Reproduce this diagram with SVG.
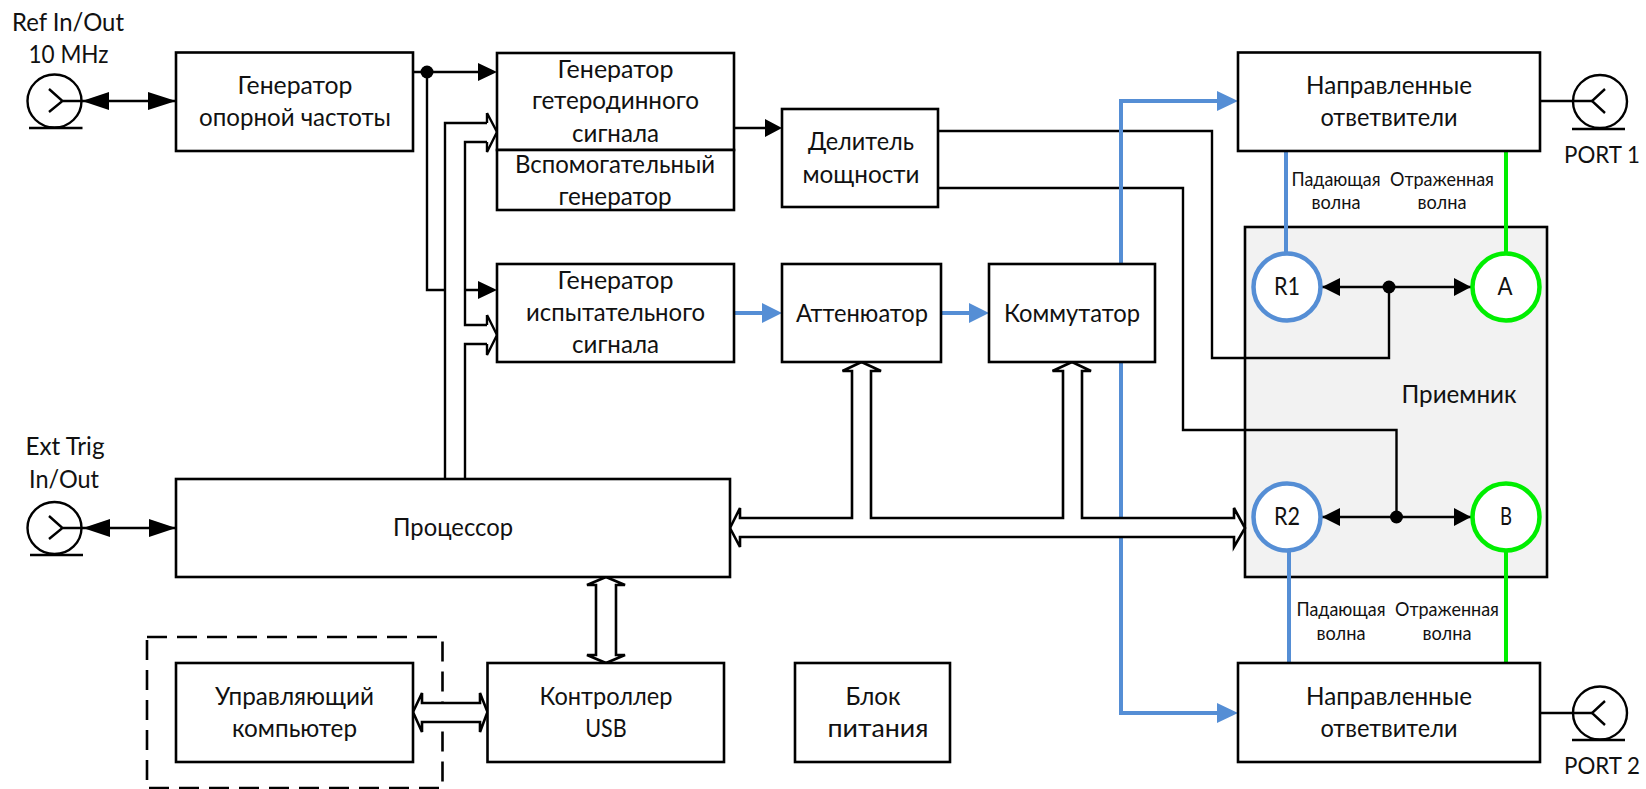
<svg xmlns="http://www.w3.org/2000/svg" width="1646" height="789" viewBox="0 0 1646 789">
<style>
text{font-family:"Lato","Noto Sans","Liberation Sans",sans-serif;font-size:25.5px;fill:#111;text-anchor:middle}
text.s{font-size:19px}
text.pt{font-size:24px}
.b{fill:#fff;stroke:#000;stroke-width:2.6}
.l{fill:none;stroke:#000;stroke-width:2.4}
.h{fill:#fff;stroke:#000;stroke-width:2.6;stroke-linejoin:miter}
.bl{fill:none;stroke:#558ed5;stroke-width:4}
.gr{fill:none;stroke:#00ee00;stroke-width:4}
.c{fill:#fff;stroke-width:4.5}
.p{fill:#fff;stroke:#000;stroke-width:2.4}
.a{fill:#000}
.ab{fill:#558ed5}
</style>
<g id="receiver"><rect x="1245" y="227" width="302" height="350" fill="#f2f2f2" stroke="#000" stroke-width="2.6"/><text x="1459" y="403" textLength="115" lengthAdjust="spacingAndGlyphs">Приемник</text></g>
<g id="computer-zone"><rect x="147" y="637" width="295.500" height="151" fill="none" stroke="#000" stroke-width="2.6" stroke-dasharray="20 10"/></g>
<g id="connectors">
<path class="l" d="M413 72H480M427 72V290H445M465 290H480M734 128H767"/>
<circle class="a" cx="427" cy="72" r="6.5"/>
<path class="a" d="M497 72l-19-9v18zM497 290l-19-9v18zM782 128l-17-9v18z"/>
<path class="l" d="M487 123H445V480M487 142H465V325H487M487 344H465V480"/>
<path class="l" d="M487 113L497 132L487 152V142M487 113V123M487 315L497 335L487 355V344M487 315V325"/>
<path class="l" d="M82 101H176M83 528H176"/>
<path class="a" d="M82 101l27-9v18zM176 101l-28-9v18zM83 528l27-9v18zM176 528l-27-9v18z"/>
<path class="l" d="M938 131H1212V358H1389V287M938 188H1183V430H1396.5V517M1322 287H1471M1322 517H1471"/>
<circle class="a" cx="1389" cy="287" r="6.5"/>
<circle class="a" cx="1396.5" cy="517" r="6.5"/>
<path class="a" d="M1322 287l18-9v18zM1471 287l-17-9v18zM1322 517l18-9v18zM1471 517l-17-9v18z"/>
<path class="bl" d="M734 313H765M941 313H972M1121 264V101H1220M1121 362V713H1220"/>
<path class="ab" d="M782 313l-20-10v20zM989 313l-20-10v20zM1238 101l-21-10v20zM1238 713l-21-10v20z"/>
<path class="h" d="M730 528L740 508V518H852V371H842.5L861.5 362L881 371H871V518H1063V371H1052.5L1072 362L1091 371H1082V518H1234V508L1245 528L1234 547V537H740V547Z"/>
<path class="h" d="M606 577L625 585H616V655H625L606 663L587 655H596V585H587Z"/>
<path class="h" d="M413 712L422 693V703H480V693L487.500 712L480 732V722H422V732Z"/>
<path class="bl" d="M1286 151V254"/>
<path class="gr" d="M1506 151V254M1506 550V663"/>
<path class="bl" d="M1289 550V663"/>
<path class="l" d="M1540 101H1592M1540 713H1592"/>
</g>
<g id="ref-connector"><ellipse class="p" cx="54.500" cy="101" rx="27" ry="26.500"/><path class="l" d="M49 89L62.500 101L49 112M62.500 101H82M29 128H82.500"/><text x="68" y="31" textLength="112" lengthAdjust="spacingAndGlyphs">Ref In/Out</text><text x="68.500" y="63" textLength="80" lengthAdjust="spacingAndGlyphs">10 MHz</text></g>
<g id="ext-connector"><ellipse class="p" cx="54.500" cy="528" rx="27" ry="26"/><path class="l" d="M49 516L62.500 528L49 539M62.500 528H83M30 555H83"/><text x="65" y="455" textLength="79" lengthAdjust="spacingAndGlyphs">Ext Trig</text><text x="64" y="488" textLength="70" lengthAdjust="spacingAndGlyphs">In/Out</text></g>
<g id="ref-gen"><rect class="b" x="176" y="52.500" width="237" height="98.500"/><text x="295" y="94" textLength="115" lengthAdjust="spacingAndGlyphs">Генератор</text><text x="295" y="126" textLength="192" lengthAdjust="spacingAndGlyphs">опорной частоты</text></g>
<g id="lo-gen"><rect class="b" x="497" y="53" width="237" height="97"/><text x="615.500" y="78" textLength="116" lengthAdjust="spacingAndGlyphs">Генератор</text><text x="615.500" y="109" textLength="167" lengthAdjust="spacingAndGlyphs">гетеродинного</text><text x="615.500" y="142" textLength="87" lengthAdjust="spacingAndGlyphs">сигнала</text></g>
<g id="aux-gen"><rect class="b" x="497" y="150" width="237" height="60"/><text x="615" y="173" textLength="200" lengthAdjust="spacingAndGlyphs">Вспомогательный</text><text x="615" y="205" textLength="113" lengthAdjust="spacingAndGlyphs">генератор</text></g>
<g id="test-gen"><rect class="b" x="497" y="264" width="237" height="98"/><text x="615.500" y="289" textLength="116" lengthAdjust="spacingAndGlyphs">Генератор</text><text x="615.500" y="321" textLength="179" lengthAdjust="spacingAndGlyphs">испытательного</text><text x="615.500" y="353" textLength="87" lengthAdjust="spacingAndGlyphs">сигнала</text></g>
<g id="divider"><rect class="b" x="782" y="109" width="156" height="98"/><text x="861" y="150" textLength="106" lengthAdjust="spacingAndGlyphs">Делитель</text><text x="861" y="183" textLength="117" lengthAdjust="spacingAndGlyphs">мощности</text></g>
<g id="attenuator"><rect class="b" x="782" y="264" width="159" height="98"/><text x="862" y="322" textLength="132" lengthAdjust="spacingAndGlyphs">Аттенюатор</text></g>
<g id="switch"><rect class="b" x="989" y="264" width="166" height="98"/><text x="1072" y="322" textLength="136" lengthAdjust="spacingAndGlyphs">Коммутатор</text></g>
<g id="coupler1"><rect class="b" x="1238" y="52.500" width="302" height="98.500"/><text x="1389" y="94" textLength="166" lengthAdjust="spacingAndGlyphs">Направленные</text><text x="1389" y="126" textLength="137" lengthAdjust="spacingAndGlyphs">ответвители</text></g>
<g id="port1"><ellipse class="p" style="fill:none" cx="1600" cy="101.500" rx="27" ry="26.500"/><path class="l" d="M1605 89L1592 101L1605 113M1572 129H1625"/><text class="pt" x="1602" y="163" textLength="76" lengthAdjust="spacingAndGlyphs">PORT 1</text></g>
<g id="coupler2"><rect class="b" x="1238" y="663" width="302" height="99"/><text x="1389" y="705" textLength="166" lengthAdjust="spacingAndGlyphs">Направленные</text><text x="1389" y="737" textLength="137" lengthAdjust="spacingAndGlyphs">ответвители</text></g>
<g id="port2"><ellipse class="p" style="fill:none" cx="1600" cy="713" rx="27" ry="26.500"/><path class="l" d="M1605 701L1592 713L1605 725M1572 740H1625"/><text class="pt" x="1602" y="774" textLength="76" lengthAdjust="spacingAndGlyphs">PORT 2</text></g>
<g id="r1"><circle class="c" cx="1287" cy="287" r="33.500" stroke="#558ed5"/><text x="1287" y="295" textLength="26" lengthAdjust="spacingAndGlyphs">R1</text></g>
<g id="a"><circle class="c" cx="1506" cy="287" r="33.500" stroke="#00ee00"/><text x="1505" y="295" textLength="15" lengthAdjust="spacingAndGlyphs">A</text></g>
<g id="r2"><circle class="c" cx="1287" cy="517" r="33.500" stroke="#558ed5"/><text x="1287" y="525" textLength="26" lengthAdjust="spacingAndGlyphs">R2</text></g>
<g id="b"><circle class="c" cx="1506" cy="517" r="33.500" stroke="#00ee00"/><text x="1506" y="525" textLength="12" lengthAdjust="spacingAndGlyphs">B</text></g>
<g id="labels">
<text class="s" x="1336" y="186" textLength="89" lengthAdjust="spacingAndGlyphs">Падающая</text><text class="s" x="1336" y="209" textLength="49" lengthAdjust="spacingAndGlyphs">волна</text>
<text class="s" x="1442" y="186" textLength="104" lengthAdjust="spacingAndGlyphs">Отраженная</text><text class="s" x="1442" y="209" textLength="49" lengthAdjust="spacingAndGlyphs">волна</text>
<text class="s" x="1341" y="616" textLength="89" lengthAdjust="spacingAndGlyphs">Падающая</text><text class="s" x="1341" y="640" textLength="49" lengthAdjust="spacingAndGlyphs">волна</text>
<text class="s" x="1447" y="616" textLength="104" lengthAdjust="spacingAndGlyphs">Отраженная</text><text class="s" x="1447" y="640" textLength="49" lengthAdjust="spacingAndGlyphs">волна</text>
</g>
<g id="cpu"><rect class="b" x="176" y="479" width="554" height="98"/><text x="453" y="536" textLength="120" lengthAdjust="spacingAndGlyphs">Процессор</text></g>
<g id="pc"><rect class="b" x="176" y="663" width="237" height="99"/><text x="294.500" y="705" textLength="159" lengthAdjust="spacingAndGlyphs">Управляющий</text><text x="294.500" y="737" textLength="125" lengthAdjust="spacingAndGlyphs">компьютер</text></g>
<g id="usb"><rect class="b" x="487.500" y="663" width="236.500" height="99"/><text x="606" y="705" textLength="133" lengthAdjust="spacingAndGlyphs">Контроллер</text><text x="606" y="737" textLength="41.500" lengthAdjust="spacingAndGlyphs">USB</text></g>
<g id="psu"><rect class="b" x="795" y="663" width="155" height="99"/><text x="873" y="705" textLength="55" lengthAdjust="spacingAndGlyphs">Блок</text><text x="878" y="737" textLength="101" lengthAdjust="spacingAndGlyphs">питания</text></g>
</svg>
